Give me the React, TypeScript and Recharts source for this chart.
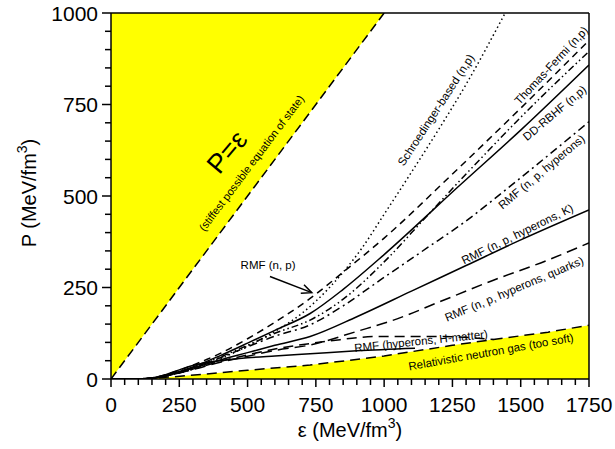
import React from 'react'
import { ComposedChart, Line, Area, XAxis, YAxis, ReferenceLine, ReferenceDot } from 'recharts'

// pressure P (MeV/fm^3) vs energy density eps (MeV/fm^3)
const stiffEps = [0, 1000]
const stiffP = [0, 1000]

const gasEps = [0, 100, 228, 400, 500, 729, 1000, 1250, 1400, 1600, 1750]
const gasP = [0, 0.5, 6, 17, 24, 38, 63, 92, 108, 128, 147]

const hmatEps = [0, 100, 150, 200, 300, 400, 500, 600, 729, 802, 973, 1200, 1400]
const hmatP = [0, 0, 2, 8, 27, 48, 66, 82, 97, 104, 116, 116, 108]

const hsolEps = [0, 100, 150, 200, 250, 300, 400, 500, 600, 729, 900, 1113]
const hsolP = [0, 0, 3, 12, 25, 37, 50, 58, 63, 69, 77, 84]

const quarkEps = [0, 100, 150, 200, 300, 400, 500, 600, 729, 900, 1050, 1200, 1400, 1600, 1750]
const quarkP = [0, 0, 2, 8, 26, 46, 62, 78, 93, 130, 165, 210, 270, 325, 372]

const kaonEps = [0, 100, 150, 200, 300, 400, 500, 600, 729, 900, 1100, 1300, 1500, 1750]
const kaonP = [0, 0, 2, 9, 30, 52, 72, 92, 116, 170, 240, 310, 380, 462]

const hypEps = [0, 100, 150, 200, 300, 400, 500, 600, 729, 850, 985, 1157, 1289, 1500, 1750]
const hypP = [0, 0, 2, 9, 31, 58, 88, 117, 148, 200, 270, 358, 426, 550, 703]

const ddEps = [0, 100, 150, 200, 300, 400, 500, 600, 729, 850, 1000, 1278, 1500, 1750]
const ddP = [0, 0, 2, 10, 33, 64, 98, 133, 179, 245, 340, 530, 680, 858]

const tfEps = [0, 100, 150, 200, 300, 400, 500, 600, 729, 850, 1000, 1150, 1300, 1500, 1750]
const tfP = [0, 0, 2, 9, 31, 60, 92, 125, 161, 218, 320, 440, 560, 715, 895]

const npEps = [0, 100, 150, 200, 300, 400, 500, 600, 729, 850, 1000, 1250, 1500, 1750]
const npP = [0, 0, 3, 12, 38, 70, 110, 155, 220, 292, 385, 560, 740, 925]

const schEps = [0, 100, 150, 200, 300, 400, 500, 600, 700, 800, 918, 1000, 1100, 1198, 1300, 1443]
const schP = [0, 0, 2, 8, 27, 55, 90, 130, 180, 250, 357, 450, 565, 680, 805, 1000]

const xMajor = [0, 250, 500, 750, 1000, 1250, 1500, 1750]
const yMajor = [0, 250, 500, 750, 1000]

const curves: [string, number[], number[]][] = [
  ['stiff', stiffEps, stiffP],
  ['gas', gasEps, gasP],
  ['hmat', hmatEps, hmatP],
  ['hsol', hsolEps, hsolP],
  ['quark', quarkEps, quarkP],
  ['kaon', kaonEps, kaonP],
  ['hyp', hypEps, hypP],
  ['dd', ddEps, ddP],
  ['tf', tfEps, tfP],
  ['np', npEps, npP],
  ['sch', schEps, schP],
]

const allEps = Array.from(new Set(curves.flatMap((c) => c[1]))).sort((a, b) => a - b)
const table = allEps.map((e) => {
  const row: any = { eps: e }
  curves.forEach(([k, xs, ys]) => {
    const i = xs.indexOf(e)
    if (i >= 0) row[k] = ys[i]
  })
  if (row.stiff !== undefined) row.stiffBand = [row.stiff, 1000]
  return row
})

const minorTicks = (major: number[]) => {
  const out: number[] = []
  for (let i = 0; i < major.length - 1; i++) {
    for (let j = 0; j < 5; j++) out.push(major[i] + (j * (major[i + 1] - major[i])) / 5)
  }
  out.push(major[major.length - 1])
  return out
}

const FONT = '"Liberation Sans", Arial, sans-serif'

const XTick = (p: any) => {
  const v = p.payload.value
  const major = v % 250 === 0
  return (
    <g>
      <line x1={p.x} x2={p.x} y1={p.y} y2={p.y + (major ? 8 : 6)} stroke="#000" strokeWidth={1.5} />
      {major && (
        <text x={p.x} y={p.y + 33} textAnchor="middle" fontSize={21} fontFamily={FONT} fill="#000">
          {v}
        </text>
      )}
    </g>
  )
}

const YTick = (p: any) => {
  const v = p.payload.value
  const major = v % 250 === 0
  return (
    <g>
      <line x1={p.x} x2={p.x - (major ? 9 : 6)} y1={p.y} y2={p.y} stroke="#000" strokeWidth={1.5} />
      {major && (
        <text x={p.x - 13} y={p.y + 7.5} textAnchor="end" fontSize={21} fontFamily={FONT} fill="#000">
          {v}
        </text>
      )}
    </g>
  )
}

const note = (text: string, angle: number, size: number) => (p: any) => (
  <text
    x={p.cx}
    y={p.cy}
    transform={`rotate(${angle} ${p.cx} ${p.cy})`}
    textAnchor="middle"
    dominantBaseline="central"
    fontSize={size}
    fontFamily={FONT}
    fill="#000"
  >
    {text}
  </text>
)

const arrow = (p: any) => {
  const { x1, y1, x2, y2 } = p
  const a = Math.atan2(y2 - y1, x2 - x1)
  const L = 11
  const s = 0.42
  const hx1 = x2 - L * Math.cos(a - s)
  const hy1 = y2 - L * Math.sin(a - s)
  const hx2 = x2 - L * Math.cos(a + s)
  const hy2 = y2 - L * Math.sin(a + s)
  return (
    <g>
      <line x1={x1} y1={y1} x2={x2} y2={y2} stroke="#000" strokeWidth={1.5} />
      <polyline points={`${hx1},${hy1} ${x2},${y2} ${hx2},${hy2}`} fill="none" stroke="#000" strokeWidth={1.5} />
    </g>
  )
}

export default function App() {
  const common = { dot: false as const, isAnimationActive: false, connectNulls: true, stroke: '#000', strokeWidth: 1.5 }
  return (
    <div style={{ position: 'absolute', left: 0, top: 0, width: 615, height: 449, fontFamily: FONT }}>
      <ComposedChart width={615} height={449} data={table} margin={{ top: 13, right: 26, left: 0, bottom: 0 }}>
        <XAxis
          dataKey="eps"
          type="number"
          domain={[0, 1750]}
          ticks={minorTicks(xMajor)}
          interval={0}
          tick={<XTick />}
          tickLine={false}
          tickSize={0}
          tickMargin={0}
          height={70}
          axisLine={{ stroke: '#000', strokeWidth: 1.5 }}
          allowDataOverflow
          label={() => (
            <text x={350} y={437} textAnchor="middle" fontSize={20} fontFamily={FONT} fill="#000">
              ε (MeV/fm<tspan dy={-9} fontSize={14}>3</tspan>
              <tspan dy={9}>)</tspan>
            </text>
          )}
        />
        <YAxis
          type="number"
          domain={[0, 1000]}
          ticks={minorTicks(yMajor)}
          interval={0}
          tick={<YTick />}
          tickLine={false}
          tickSize={0}
          tickMargin={0}
          width={111}
          axisLine={{ stroke: '#000', strokeWidth: 1.5 }}
          allowDataOverflow
          label={() => (
            <text
              x={36}
              y={193}
              transform="rotate(-90 36 193)"
              textAnchor="middle"
              fontSize={20}
              fontFamily={FONT}
              fill="#000"
            >
              P (MeV/fm<tspan dy={-9} fontSize={14}>3</tspan>
              <tspan dy={9}>)</tspan>
            </text>
          )}
        />
        <Area dataKey="stiffBand" type="linear" fill="#ffff00" fillOpacity={1} stroke="none" connectNulls isAnimationActive={false} />
        <Area dataKey="gas" type="linear" fill="#ffff00" fillOpacity={1} stroke="none" connectNulls isAnimationActive={false} baseValue={0} />
        <ReferenceLine y={1000} stroke="#000" strokeWidth={1.5} />
        <ReferenceLine x={1750} stroke="#000" strokeWidth={1.5} />

        <Line dataKey="stiff" type="linear" {...common} strokeDasharray="9 5" />
        <Line dataKey="gas" type="linear" {...common} strokeDasharray="10 6" />
        <Line dataKey="hmat" type="monotone" {...common} strokeDasharray="10 6" />
        <Line dataKey="hsol" type="monotone" {...common} />
        <Line dataKey="quark" type="monotone" {...common} strokeDasharray="11 6" />
        <Line dataKey="kaon" type="monotone" {...common} />
        <Line dataKey="hyp" type="monotone" {...common} strokeDasharray="8 4 2 4" />
        <Line dataKey="dd" type="monotone" {...common} />
        <Line dataKey="tf" type="monotone" {...common} strokeDasharray="7 3 1.5 3 1.5 3" />
        <Line dataKey="np" type="monotone" {...common} strokeDasharray="7 5" />
        <Line dataKey="sch" type="monotone" {...common} strokeDasharray="1.5 3" />

        <ReferenceLine segment={[{ x: 582, y: 280 }, { x: 735, y: 236 }]} shape={arrow} />

        <ReferenceDot x={425} y={620} r={0} shape={note('P=ε', -50, 27)} />
        <ReferenceDot x={514} y={590} r={0} shape={note('(stiffest possible equation of state)', -53, 11)} />
        <ReferenceDot x={575} y={311} r={0} shape={note('RMF (n, p)', 0, 11.5)} />
        <ReferenceDot x={1190} y={735} r={0} shape={note('Schroedinger-based (n,p)', -57, 11.5)} />
        <ReferenceDot x={1612} y={857} r={0} shape={note('Thomas-Fermi (n,p)', -47, 11.5)} />
        <ReferenceDot x={1624} y={727} r={0} shape={note('DD-RBHF (n,p)', -40, 11.5)} />
        <ReferenceDot x={1576} y={566} r={0} shape={note('RMF (n, p, hyperons)', -40, 11.5)} />
        <ReferenceDot x={1488} y={396} r={0} shape={note('RMF (n, p, hyperons, K)', -26, 11.5)} />
        <ReferenceDot x={1476} y={246} r={0} shape={note('RMF (n, p, hyperons, quarks)', -23, 11.5)} />
        <ReferenceDot x={1135} y={104} r={0} shape={note('RMF (hyperons, H-matter)', -6, 11.5)} />
        <ReferenceDot x={1391} y={74} r={0} shape={note('Relativistic neutron gas (too soft)', -10, 11.5)} />
      </ComposedChart>
    </div>
  )
}
